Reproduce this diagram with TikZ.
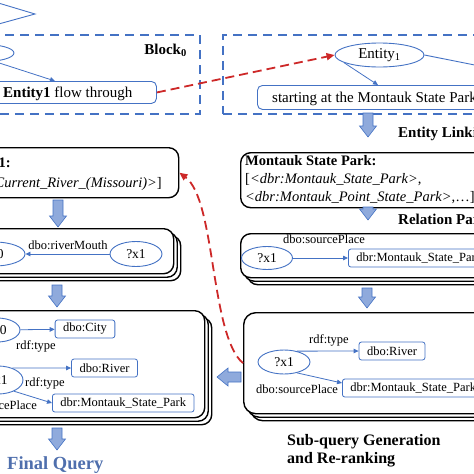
\documentclass[tikz,border=0pt]{standalone}
\usepackage{fontspec}
\setmainfont{Liberation Serif}
\usetikzlibrary{arrows.meta,shapes.geometric,shadows,calc}
\definecolor{lblue}{RGB}{68,114,196}
\definecolor{fblue}{RGB}{143,170,220}
\definecolor{dred}{RGB}{205,40,40}
\definecolor{qblue}{RGB}{79,111,173}
\newcommand\fmain{\fontsize{15}{18}\selectfont}
\newcommand\fmid{\fontsize{14.5}{17}\selectfont}
\newcommand\fsmall{\fontsize{12.5}{15}\selectfont}
\newcommand\fent{\fontsize{13.5}{16}\selectfont}
\newcommand\fhead{\fontsize{15}{18}\selectfont\bfseries}
\newcommand\fsubq{\fontsize{16}{19}\selectfont\bfseries}
\newcommand\ffinal{\fontsize{18.5}{22}\selectfont\bfseries}
\newcommand\dnarrow[3]{\draw[barrow] (#1-5,#2) -- (#1+5,#2) -- (#1+5,#3-11) -- (#1+8.5,#3-11) -- (#1,#3) -- (#1-8.5,#3-11) -- (#1-5,#3-11) -- cycle;}
\begin{document}
\begin{tikzpicture}[x=1pt,y=-1pt,
  blockbox/.style={draw=lblue, line width=1.5pt, dash pattern=on 9pt off 6pt, inner sep=0pt, anchor=north west},
  panel/.style={draw=black, line width=1.4pt, rounded corners=10pt, fill=white, inner sep=0pt, anchor=north west},
  stacked/.style={panel, double copy shadow={shadow xshift=3.5pt, shadow yshift=-3.5pt}},
  textbox/.style={draw=lblue, line width=0.9pt, rounded corners=5pt, fill=white, inner sep=0pt, anchor=north west},
  ent/.style={ellipse, draw=lblue, line width=0.9pt, fill=white, inner sep=0pt, font=\fent},
  lab/.style={draw=lblue, line width=0.8pt, rounded corners=2.5pt, fill=white, font=\fsmall, inner xsep=8pt, inner ysep=0pt, minimum height=18pt},
  rel/.style={font=\fsmall, inner sep=0pt},
  conn/.style={draw=lblue, line width=0.8pt, -{Triangle[length=5pt,width=4.5pt]}},
  reddash/.style={draw=dred, line width=1.8pt, dash pattern=on 9pt off 5pt, -{Triangle[length=8pt,width=7pt]}},
  barrow/.style={draw=lblue, line width=0.6pt, fill=fblue},
  txt/.style={inner sep=0pt, font=\fmain},
]
\useasboundingbox (0,0) rectangle (474,474);
\clip (0,0) rectangle (474,474);

% ---- top blocks
\draw[draw=lblue, line width=0.9pt] (-5,2) -- (35,14) -- (-5,25);
\node[blockbox, minimum width=230pt, minimum height=79pt] (b0) at (-31,34) {};
\node[blockbox, minimum width=300pt, minimum height=79pt] (b1) at (222,34) {};
\node[anchor=east, font=\fhead, inner sep=0pt] (b0l) at (187,50) {Block\textsubscript{0}};

\node[ent, minimum width=68pt, minimum height=18pt] (e0) at (-20,53) {};
\node[textbox, minimum width=186pt, minimum height=22pt] (fb) at (-30,81) {};
\node[txt, anchor=base west] (fbt) at (3,97) {\textbf{Entity1} flow through};
\draw[conn] (e0.330) -- (fb.north -| 55,0);

\node[ent, font=\fmain, minimum width=89pt, minimum height=24pt] (e1) at (379.5,55) {Entity\textsubscript{1}};
\node[textbox, minimum width=280pt, minimum height=24pt] (sb) at (257,85) {};
\node[txt, anchor=base west] (sbt) at (272,102) {starting at the Montauk State Park};
\draw[conn] (e1.192) -- (sb.north -| 378,0);
\draw[draw=lblue, line width=0.9pt] (e1.east) -- (530,76);
\draw[reddash] (fb.east) -- (e1.west);

% ---- right column
\dnarrow{368}{113}{137}
\node[anchor=base west, font=\fhead, inner sep=0pt] (elk) at (398,137) {Entity Linking};
\node[panel, minimum width=290pt, minimum height=55pt] (rb1) at (240,152) {};
\node[txt, anchor=base west, font=\fmid\bfseries] (rb1a) at (245,165) {Montauk State Park:};
\node[txt, anchor=base west, font=\fmid] (rb1b) at (245,183) {[\textit{<dbr:Montauk\_State\_Park>},};
\node[txt, anchor=base west, font=\fmid] (rb1c) at (245,201) {\textit{<dbr:Montauk\_Point\_State\_Park>},…]};

\dnarrow{368}{207}{220}
\node[anchor=base west, font=\fhead, inner sep=0pt] (rpa) at (398,224) {Relation Parsing};
\node[stacked, minimum width=290pt, minimum height=44pt] (rb2) at (240,233) {};
\node[ent, minimum width=51pt, minimum height=23pt] (x1r) at (267,258) {?x1};
\node[lab, anchor=west] (sp1) at (348,258) {dbr:Montauk\_State\_Park};
\draw[conn] (x1r) -- (sp1);
\node[rel] (sp1l) at (324,239) {dbo:sourcePlace};

\dnarrow{367}{288}{308}
\node[stacked, rounded corners=12pt, minimum width=290pt, minimum height=101pt] (rb3) at (243,312) {};
\node[ent, minimum width=52pt, minimum height=24pt] (x1b) at (284,362) {?x1};
\node[lab] (riv) at (392,351) {dbo:River};
\draw[conn] (x1b.40) -- (riv.west);
\node[rel] (rt3) at (329,340) {rdf:type};
\node[lab, anchor=west] (msp3) at (342,388) {dbr:Montauk\_State\_Park};
\draw[conn] (x1b.-40) -- ($(msp3.west)+(0,-5)$);
\node[rel] (sp3l) at (297,389) {dbo:sourcePlace};

\node[anchor=base west, font=\fsubq, inner sep=0pt] (sq1) at (287,445) {Sub-query Generation};
\node[anchor=base west, font=\fsubq, inner sep=0pt] (sq2) at (287,463) {and Re-ranking};

% ---- left column
\node[panel, minimum width=210pt, minimum height=50pt] (lb1) at (-32,147) {};
\node[txt, anchor=base east, font=\fmid] (lb1b) at (162,187) {[\textit{<dbr:Current\_River\_(Missouri)>}]};
\node[txt, anchor=base east, font=\fmid\bfseries] (lb1a) at (11,167) {Entity1:};

\dnarrow{58}{200}{227}
\node[stacked, minimum width=205pt, minimum height=45pt] (lb2) at (-32,228) {};
\node[ent, minimum width=62pt, minimum height=24pt] (x0a) at (-6,254) {?x0};
\node[ent, minimum width=52pt, minimum height=25pt] (x1a) at (136,254) {?x1};
\draw[conn] (x1a) -- (x0a);
\node[rel] (rm) at (68,245) {dbo:riverMouth};

\dnarrow{57}{285}{307}
\node[stacked, minimum width=236pt, minimum height=107pt] (lb3) at (-32,310) {};
\node[ent, minimum width=46pt, minimum height=24pt] (x0b) at (-3,330) {?x0};
\node[lab] (city) at (85,329) {dbo:City};
\draw[conn] (x0b) -- (city);
\node[rel] (rt1) at (36,346) {rdf:type};
\node[ent, minimum width=50pt, minimum height=28pt] (x1c) at (-2,380) {?x1};
\node[lab] (riv1) at (104.5,368) {dbo:River};
\draw[conn] (x1c.40) -- (riv1.west);
\node[rel] (rt2) at (45,383) {rdf:type};
\node[lab, anchor=west] (msp1) at (52,403) {dbr:Montauk\_State\_Park};
\draw[conn] (x1c.-35) -- (msp1.west);
\node[rel, anchor=east] (sp2l) at (37,405) {dbo:sourcePlace};

\dnarrow{57}{428}{450}
\node[anchor=base west, font=\ffinal, text=qblue, inner sep=0pt] (fq) at (7,469) {Final Query};

% ---- horizontal block arrow and red feedback
\draw[barrow] (241,372) -- (228,372) -- (228,368) -- (217,377) -- (228,386) -- (228,382) -- (241,382) -- cycle;
\draw[reddash] (rb3.west) .. controls (210,335) and (216,200) .. (lb1.east);
\end{tikzpicture}
\end{document}
